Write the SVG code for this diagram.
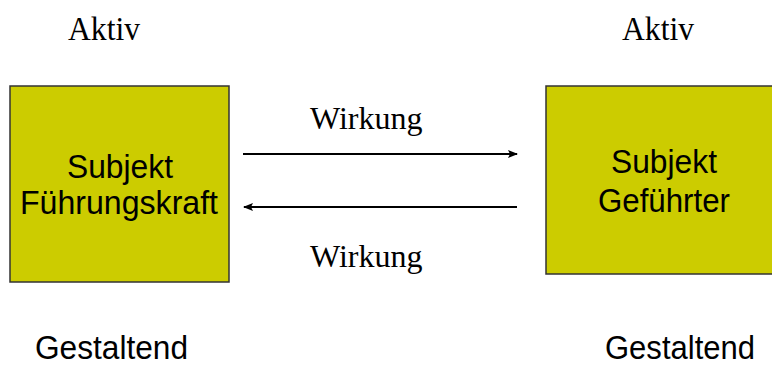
<svg xmlns="http://www.w3.org/2000/svg" width="772" height="367" viewBox="0 0 772 367">
<style>
.box{fill:#CCCC00;stroke:#333333;stroke-width:1.5}
.sans{font-family:"Liberation Sans",Arial,sans-serif;font-size:33px;fill:#000}
.serif{font-family:"Liberation Serif","Times New Roman",serif;font-size:32px;fill:#000}
.tall{font-size:34px}
.conn{stroke:#000;stroke-width:2;fill:none}
</style>
<defs>
<marker id="ah" viewBox="0 0 10 8" refX="9" refY="4" markerWidth="10" markerHeight="8" markerUnits="userSpaceOnUse" orient="auto">
<path d="M0,0 L10,4 L0,8 L2,4 Z" fill="#000"/>
</marker>
</defs>
<rect width="772" height="367" fill="#fff"/>
<text class="serif tall" x="68" y="40" textLength="72" lengthAdjust="spacingAndGlyphs">Aktiv</text>
<text class="serif tall" x="622" y="40" textLength="72" lengthAdjust="spacingAndGlyphs">Aktiv</text>
<g id="fuehrungskraft">
<rect class="box" x="10" y="86" width="219" height="196"/>
<text class="sans" x="67" y="178" textLength="106" lengthAdjust="spacingAndGlyphs">Subjekt</text>
<text class="sans" x="20" y="214" textLength="198" lengthAdjust="spacingAndGlyphs">Führungskraft</text>
</g>
<g id="gefuehrter">
<rect class="box" x="546" y="86" width="240" height="188"/>
<text class="sans" x="611" y="173" textLength="106" lengthAdjust="spacingAndGlyphs">Subjekt</text>
<text class="sans" x="598" y="212" textLength="132" lengthAdjust="spacingAndGlyphs">Geführter</text>
</g>
<g id="connectors">
<line class="conn" x1="243" y1="154" x2="517" y2="154" marker-end="url(#ah)"/>
<line class="conn" x1="517" y1="207" x2="244" y2="207" marker-end="url(#ah)"/>
<text class="serif" x="310" y="129">Wirkung</text>
<text class="serif" x="310" y="267">Wirkung</text>
</g>
<text class="sans" x="35" y="359" font-size="31" textLength="153" lengthAdjust="spacingAndGlyphs">Gestaltend</text>
<text class="sans" x="605" y="359" font-size="31" textLength="150" lengthAdjust="spacingAndGlyphs">Gestaltend</text>
</svg>
